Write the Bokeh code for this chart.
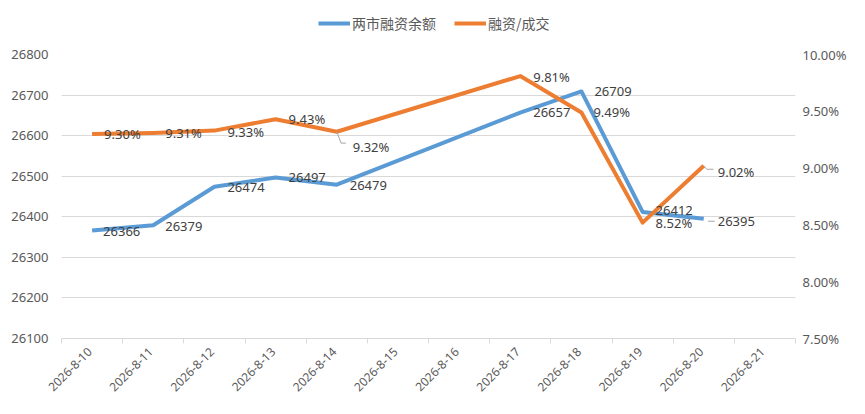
import math
from bokeh.plotting import figure
from bokeh.layouts import column
from bokeh.models import (Range1d, LinearAxis, FixedTicker, PrintfTickFormatter,
                          Legend, LegendItem, ColumnDataSource)
from bokeh.core.properties import value
from bokeh.embed import file_html
from bokeh.resources import INLINE

# ---------------- data ----------------
categories = ["2026-8-10", "2026-8-11", "2026-8-12", "2026-8-13", "2026-8-14",
              "2026-8-15", "2026-8-16", "2026-8-17", "2026-8-18", "2026-8-19",
              "2026-8-20", "2026-8-21"]
data_dates = ["2026-8-10", "2026-8-11", "2026-8-12", "2026-8-13", "2026-8-14",
              "2026-8-17", "2026-8-18", "2026-8-19", "2026-8-20"]
balance = [26366, 26379, 26474, 26497, 26479, 26657, 26709, 26412, 26395]   # 两市融资余额
ratio = [9.30, 9.31, 9.33, 9.43, 9.32, 9.81, 9.49, 8.52, 9.02]              # 融资/成交 (%)
left_ticks = [26100, 26200, 26300, 26400, 26500, 26600, 26700, 26800]
right_ticks = [7.5, 8.0, 8.5, 9.0, 9.5, 10.0]
series_names = ["两市融资余额", "融资/成交"]

# label offsets (pixels) - styling only
balance_dx = [11, 12, 13, 13, 13, 13, 13, 13, 14]
balance_dy = [1, 1, 1, 0, 1, 0, 0, -1, 3]
ratio_dx = [12, 12, 13, 13, 16, 13, 12, 13, 14]
ratio_dy = [0, 0, 1, 0, 15, 1, 0, 0, 6]

BLUE = "#5B9BD5"
ORANGE = "#ED7D31"
GRID = "#D9D9D9"
TICK_TXT = "#595959"
LABEL_TXT = "#404040"
FONT = "Noto Sans"
CJK = "Noto Sans CJK SC"

W = 849
LEG_H = 44
MAIN_H = 354

xs = [categories.index(d) + 0.5 for d in data_dates]
label_shift = 0.04  # rotated tick labels: move anchor so text ends at category centre

p = figure(width=W, height=MAIN_H, output_backend="svg", toolbar_location=None,
           x_range=Range1d(0, len(categories)),
           y_range=Range1d(left_ticks[0], left_ticks[-1]),
           min_border_left=61, min_border_right=51, min_border_top=10,
           min_border_bottom=58)
p.extra_y_ranges = {"ratio": Range1d(right_ticks[0], right_ticks[-1])}
p.outline_line_color = None
p.background_fill_color = "white"
p.border_fill_color = "white"

# x axis (categories centred between boundary ticks)
xa = p.xaxis[0]
xa.ticker = FixedTicker(ticks=[i + 0.5 - label_shift for i in range(len(categories))],
                        minor_ticks=list(range(len(categories) + 1)))
xa.major_label_overrides = {i + 0.5 - label_shift: c for i, c in enumerate(categories)}
xa.major_label_orientation = math.pi / 4
xa.axis_line_color = GRID
xa.major_tick_line_color = None
xa.minor_tick_line_color = GRID
xa.minor_tick_in = 0
xa.minor_tick_out = 5
xa.major_label_standoff = 5
xa.major_label_text_font = FONT
xa.major_label_text_font_size = "12px"
xa.major_label_text_color = TICK_TXT

# left axis
ya = p.yaxis[0]
ya.ticker = FixedTicker(ticks=left_ticks)
ya.axis_line_color = None
ya.major_tick_line_color = None
ya.major_tick_out = 0
ya.major_tick_in = 0
ya.minor_tick_line_color = None
ya.minor_tick_out = 0
ya.major_label_standoff = 13
ya.major_label_text_font = FONT
ya.major_label_text_font_size = "13px"
ya.major_label_text_color = TICK_TXT

# right axis
ra = LinearAxis(y_range_name="ratio", ticker=FixedTicker(ticks=right_ticks),
                formatter=PrintfTickFormatter(format="%.2f%%"))
ra.axis_line_color = None
ra.major_tick_line_color = None
ra.major_tick_out = 0
ra.major_tick_in = 0
ra.minor_tick_line_color = None
ra.minor_tick_out = 0
ra.major_label_standoff = 7
ra.major_label_text_font = FONT
ra.major_label_text_font_size = "13px"
ra.major_label_text_color = TICK_TXT
p.add_layout(ra, "right")

p.xgrid.visible = False
p.ygrid.ticker = FixedTicker(ticks=left_ticks)
p.ygrid.grid_line_color = GRID
p.ygrid.grid_line_width = 1

# lines
src_b = ColumnDataSource(dict(x=xs, y=balance, label=[str(v) for v in balance],
                              dx=balance_dx, dy=balance_dy))
src_r = ColumnDataSource(dict(x=xs, y=ratio, label=[f"{v:.2f}%" for v in ratio],
                              dx=ratio_dx, dy=ratio_dy))

rb = p.line("x", "y", source=src_b, line_color=BLUE, line_width=4, line_join="round")
rr = p.line("x", "y", source=src_r, line_color=ORANGE, line_width=4, line_join="round",
            y_range_name="ratio")

# leader lines for moved labels
i = data_dates.index("2026-8-14")
j = data_dates.index("2026-8-20")
p.multi_line(xs=[[xs[i], xs[i] + 0.07, xs[i] + 0.15],
                 [xs[j], xs[j] + 0.05, xs[j] + 0.16]],
             ys=[[ratio[i], ratio[i] - 0.10, ratio[i] - 0.10],
                 [ratio[j], ratio[j] - 0.03, ratio[j] - 0.03]],
             line_color="#A6A6A6", line_width=1, y_range_name="ratio")
p.line(x=[xs[j] + 0.07, xs[j] + 0.18], y=[balance[j] - 6, balance[j] - 6],
       line_color="#A6A6A6", line_width=1)

# data labels
for src, yr in ((src_b, "default"), (src_r, "ratio")):
    p.text(x="x", y="y", text="label", source=src, x_offset="dx", y_offset="dy",
           text_align="left", text_baseline="middle",
           text_font=value(FONT), text_font_size="13px", text_color=LABEL_TXT,
           y_range_name=yr)

# ---- legend strip above the plot (same series, out of this strip's view) ----
lg = figure(width=W, height=LEG_H, output_backend="svg", toolbar_location=None,
            x_axis_location=None, y_axis_location=None,
            x_range=Range1d(-2, -1), y_range=Range1d(-2, -1),
            min_border_left=0, min_border_right=0, min_border_top=0,
            min_border_bottom=0)
lg.outline_line_color = None
lg.xgrid.visible = False
lg.ygrid.visible = False
lb = lg.line(xs, balance, line_color=BLUE, line_width=4)
lr = lg.line(xs, ratio, line_color=ORANGE, line_width=4)
legend = Legend(items=[LegendItem(label=series_names[0], renderers=[lb]),
                       LegendItem(label=series_names[1], renderers=[lr])],
                orientation="horizontal", location=(257, 11),
                glyph_width=32, glyph_height=14, label_standoff=2, spacing=18,
                padding=0, margin=0, border_line_color=None,
                background_fill_alpha=0,
                label_text_font=CJK, label_text_font_size="14px",
                label_text_color=TICK_TXT)
lg.add_layout(legend, "center")

layout = column(lg, p, spacing=0)
open("out.html", "w").write(file_html(layout, INLINE))
